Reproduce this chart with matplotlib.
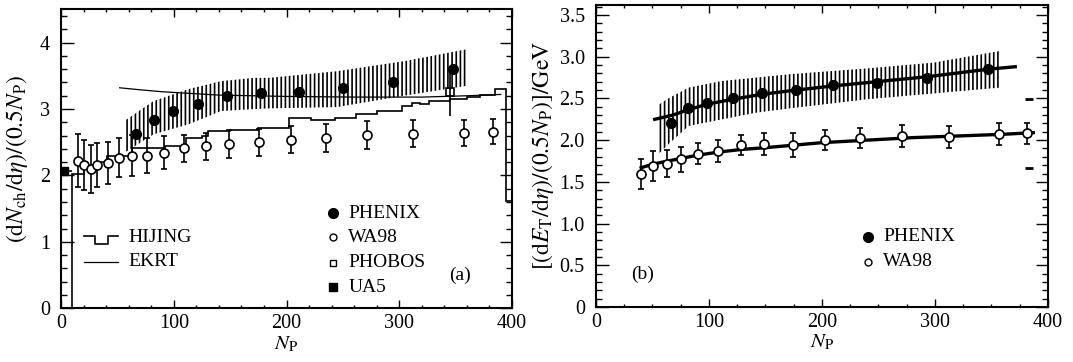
import numpy as np
import matplotlib.pyplot as plt
from matplotlib.ticker import MultipleLocator

plt.rcParams['font.family'] = 'Liberation Serif'
plt.rcParams['mathtext.fontset'] = 'stix'
plt.rcParams['hatch.linewidth'] = 1.2
plt.rcParams['hatch.color'] = 'black'

# ---- panel (a) data ----
wa98_a_x = [14.8, 20.7, 26.3, 32.2, 41.4, 51.4, 63.2, 76.3, 91.4, 109.4, 128.9, 149.3,
            175.6, 203.7, 235.0, 271.4, 312.5, 357.4, 382.9]
wa98_a_y = [2.22, 2.16, 2.10, 2.16, 2.19, 2.27, 2.30, 2.30, 2.34, 2.41, 2.44, 2.48,
            2.50, 2.54, 2.57, 2.61, 2.63, 2.64, 2.66]
wa98_a_err = [0.40, 0.38, 0.36, 0.33, 0.32, 0.29, 0.31, 0.27, 0.25, 0.20, 0.20, 0.21,
              0.20, 0.20, 0.21, 0.21, 0.20, 0.19, 0.19]

phenix_a_x = [66.5, 82.2, 99.6, 121.8, 146.9, 177.4, 211.4, 249.8, 294.2, 347.4]
phenix_a_y = [2.62, 2.83, 2.97, 3.07, 3.20, 3.24, 3.26, 3.32, 3.41, 3.61]

band_a_x = [57, 82, 113, 142, 172, 185, 245, 304, 360]
band_a_lo = [2.35, 2.62, 2.77, 2.97, 3.00, 3.01, 3.03, 3.20, 3.35]
band_a_hi = [2.83, 3.12, 3.30, 3.42, 3.47, 3.47, 3.57, 3.72, 3.90]

phobos_x = [345]
phobos_y = [3.25]
phobos_err = [0.35]

ua5_x = [3]
ua5_y = [2.07]

hijing_edges = [9.5, 20, 30, 41, 63, 92, 111, 125, 130, 150, 175, 202, 222, 243, 262,
                280, 302, 311, 318, 326, 345, 360, 372, 385, 395, 400]
hijing_vals = [2.02, 2.10, 2.20, 2.30, 2.42, 2.45, 2.56, 2.60, 2.67, 2.69, 2.72, 2.87,
               2.84, 2.87, 2.92, 2.97, 3.04, 3.09, 3.07, 3.12, 3.15, 3.18, 3.21, 3.30, 1.62]

ekrt_x = [52, 70, 90, 110, 140, 200, 260, 320, 360, 390]
ekrt_y = [3.32, 3.29, 3.26, 3.24, 3.21, 3.19, 3.18, 3.18, 3.20, 3.22]

# ---- panel (b) data ----
wa98_b_x = [39.8, 50.7, 62.6, 75.2, 90.0, 108.3, 128.3, 148.7, 174.6, 202.7, 233.6,
            270.5, 312.4, 356.6, 381.0]
wa98_b_y = [1.59, 1.69, 1.72, 1.77, 1.84, 1.87, 1.94, 1.95, 1.94, 2.00, 2.02, 2.05,
            2.04, 2.07, 2.08]
wa98_b_err = [0.18, 0.18, 0.16, 0.15, 0.13, 0.13, 0.12, 0.13, 0.14, 0.12, 0.12, 0.13,
              0.13, 0.13, 0.13]

phenix_b_x = [66.4, 81.7, 98.5, 121.5, 146.6, 177.0, 210.0, 248.4, 292.6, 347.2]
phenix_b_y = [2.20, 2.38, 2.45, 2.50, 2.57, 2.60, 2.66, 2.69, 2.74, 2.85]

band_b_x = [55, 64, 82, 112, 142, 171, 240, 299, 358]
band_b_lo = [1.83, 1.95, 2.17, 2.25, 2.33, 2.38, 2.49, 2.56, 2.63]
band_b_hi = [2.42, 2.50, 2.63, 2.71, 2.75, 2.79, 2.86, 2.93, 3.07]

fit_phenix_x = [52, 68, 83, 98, 121, 147, 177, 210, 248, 293, 347, 371]
fit_phenix_y = [2.25, 2.30, 2.37, 2.43, 2.49, 2.55, 2.60, 2.65, 2.70, 2.76, 2.85, 2.88]

fit_wa98_x = [40, 50, 60, 75, 90, 110, 130, 150, 175, 200, 240, 280, 320, 360, 387]
fit_wa98_y = [1.67, 1.71, 1.74, 1.78, 1.82, 1.86, 1.89, 1.91, 1.94, 1.97, 2.00, 2.03,
              2.05, 2.07, 2.09]

syst_x = [383, 383]
syst_y = [2.49, 1.67]


def style_axes(ax, ymax, ymaj, ymin, xmin_step):
    ax.set_xlim(0, 400)
    ax.set_ylim(0, ymax)
    ax.xaxis.set_major_locator(MultipleLocator(100))
    ax.xaxis.set_minor_locator(MultipleLocator(xmin_step))
    ax.yaxis.set_major_locator(MultipleLocator(ymaj))
    ax.yaxis.set_minor_locator(MultipleLocator(ymin))
    ax.tick_params(which='both', direction='in', top=True, right=True, labelsize=14.5)
    ax.tick_params(axis='y', which='major', length=9, width=1.0, pad=8)
    ax.tick_params(axis='y', which='minor', length=4.5, width=1.0)
    ax.tick_params(axis='x', which='major', length=6, width=1.0, pad=4)
    ax.tick_params(axis='x', which='minor', length=2.5, width=1.0)
    for s in ax.spines.values():
        s.set_linewidth(1.5)


fig = plt.figure(figsize=(10.73, 3.62), dpi=100)
ax1 = fig.add_axes([0.0569, 0.1483, 0.4203, 0.8257])
ax2 = fig.add_axes([0.5554, 0.1519, 0.4213, 0.8343])

# ---------- (a) ----------
ax1.fill_between(band_a_x, band_a_lo, band_a_hi, hatch='||||', facecolor='none',
                 edgecolor='black', linewidth=0)
ax1.stairs(hijing_vals, hijing_edges, baseline=0, color='black', lw=1.2)
ax1.plot(ekrt_x, ekrt_y, color='black', lw=0.9)
ax1.errorbar(wa98_a_x, wa98_a_y, yerr=wa98_a_err, fmt='o', mfc='white', mec='black',
             ms=6.5, mew=1.2, ecolor='black', elinewidth=1.2, capsize=2.5, capthick=1.2)
ax1.plot(phenix_a_x, phenix_a_y, 'o', color='black', ms=7)
ax1.errorbar(phobos_x, phobos_y, yerr=phobos_err, fmt='s', mfc='none', mec='black',
             ms=6, mew=1.2, ecolor='black', elinewidth=1.2)
ax1.errorbar(ua5_x, ua5_y, xerr=7, fmt='s', color='black', ms=6, elinewidth=1.2)
style_axes(ax1, 4.5, 1, 0.2, 20)
ax1.set_yticks([0, 1, 2, 3, 4])
ax1.set_ylabel(r'$(\mathrm{d}N_{\mathrm{ch}}/\mathrm{d}\eta)/(0.5N_{\mathrm{P}})$', fontsize=17)
ax1.yaxis.set_label_coords(-0.068, 0.5)
ax1.set_xlabel(r'$N_{\mathrm{P}}$', fontsize=15, labelpad=1)

# legend (a)
tr = ax1.transAxes
ax1.plot([0.051, 0.075, 0.075, 0.103, 0.103, 0.126],
         [0.242, 0.242, 0.215, 0.215, 0.242, 0.242], color='black', lw=1.2, transform=tr)
ax1.text(0.149, 0.237, 'HIJING', transform=tr, fontsize=14, va='center')
ax1.plot([0.051, 0.126], [0.156, 0.156], color='black', lw=0.9, transform=tr)
ax1.text(0.149, 0.156, 'EKRT', transform=tr, fontsize=14, va='center')
ax1.plot([0.602], [0.318], 'o', color='black', ms=7, transform=tr)
ax1.text(0.637, 0.318, 'PHENIX', transform=tr, fontsize=14, va='center')
ax1.plot([0.602], [0.237], 'o', mfc='white', mec='black', ms=5, mew=1.0, transform=tr)
ax1.text(0.637, 0.237, 'WA98', transform=tr, fontsize=14, va='center')
ax1.plot([0.602], [0.153], 's', mfc='white', mec='black', ms=5, mew=1.0, transform=tr)
ax1.text(0.637, 0.153, 'PHOBOS', transform=tr, fontsize=14, va='center')
ax1.plot([0.602], [0.070], 's', color='black', ms=6, transform=tr)
ax1.text(0.637, 0.070, 'UA5', transform=tr, fontsize=14, va='center')
ax1.text(0.885, 0.111, '(a)', transform=tr, fontsize=14, ha='center', va='center')

# ---------- (b) ----------
ax2.fill_between(band_b_x, band_b_lo, band_b_hi, hatch='||||', facecolor='none',
                 edgecolor='black', linewidth=0)
ax2.plot(fit_phenix_x, fit_phenix_y, color='black', lw=2.4)
ax2.plot(fit_wa98_x, fit_wa98_y, color='black', lw=2.4)
ax2.errorbar(wa98_b_x, wa98_b_y, yerr=wa98_b_err, fmt='o', mfc='white', mec='black',
             ms=6.5, mew=1.2, ecolor='black', elinewidth=1.2, capsize=2.5, capthick=1.2)
ax2.plot(phenix_b_x, phenix_b_y, 'o', color='black', ms=7)
ax2.plot(syst_x, syst_y, '_', color='black', ms=6, mew=2)
style_axes(ax2, 3.62, 0.5, 0.1, 25)
ax2.set_yticks([0, 0.5, 1.0, 1.5, 2.0, 2.5, 3.0, 3.5])
ax2.set_yticklabels(['0', '0.5', '1.0', '1.5', '2.0', '2.5', '3.0', '3.5'])
ax2.set_ylabel(r'$[(\mathrm{d}E_{\mathrm{T}}/\mathrm{d}\eta)/(0.5N_{\mathrm{P}})]/\mathrm{GeV}$',
               fontsize=17)
ax2.yaxis.set_label_coords(-0.088, 0.5)
ax2.set_xlabel(r'$N_{\mathrm{P}}$', fontsize=15, labelpad=1)

tr2 = ax2.transAxes
ax2.plot([0.602], [0.233], 'o', color='black', ms=7, transform=tr2)
ax2.text(0.636, 0.233, 'PHENIX', transform=tr2, fontsize=14, va='center')
ax2.plot([0.602], [0.150], 'o', mfc='white', mec='black', ms=5, mew=1.0, transform=tr2)
ax2.text(0.636, 0.150, 'WA98', transform=tr2, fontsize=14, va='center')
ax2.text(0.104, 0.109, '(b)', transform=tr2, fontsize=14, ha='center', va='center')

fig.savefig('out.png', dpi=100)
